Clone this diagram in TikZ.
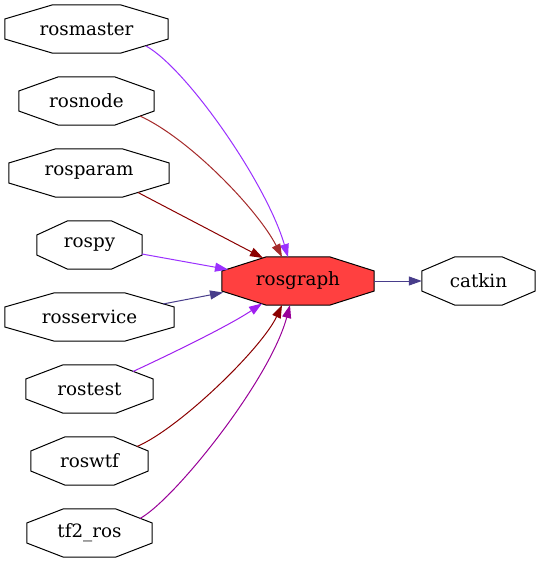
\documentclass[tikz,border=0pt]{standalone}
\usepackage{fontspec}
\setmainfont{DejaVu Serif}
\usetikzlibrary{calc,arrows.meta,backgrounds}
\definecolor{cPurple}{HTML}{9B30FF}
\definecolor{cBrown}{HTML}{A52A2A}
\definecolor{cDarkRed}{HTML}{8B0000}
\definecolor{cSlate}{HTML}{483D8B}
\definecolor{cViolet}{HTML}{A020F0}
\definecolor{cMagenta}{HTML}{990099}
\definecolor{cFill}{HTML}{FF4040}
\newcommand\octpath[1]{($(#1.north west)!0.2929!(#1.north east)$) -- ($(#1.north west)!0.7071!(#1.north east)$) -- ($(#1.north east)!0.2929!(#1.south east)$) -- ($(#1.north east)!0.7071!(#1.south east)$) -- ($(#1.south west)!0.7071!(#1.south east)$) -- ($(#1.south west)!0.2929!(#1.south east)$) -- ($(#1.north west)!0.7071!(#1.south west)$) -- ($(#1.north west)!0.2929!(#1.south west)$) -- cycle}
\tikzset{
  oct/.style={rectangle, draw=none, minimum height=48pt, inner sep=0pt, font=\fontsize{18.3}{22}\selectfont},
  octline/.style={draw=black, line width=1pt},
  conn/.style={line width=1pt, -{Triangle[length=13pt,width=9pt]}}
}
\begin{document}
\begin{tikzpicture}[x=1pt,y=-1pt]
\useasboundingbox (0,0) rectangle (540,563);
\node[oct, minimum width=163pt] (rosmaster) at (86.5,29) {rosmaster};
\node[oct, minimum width=135pt] (rosnode) at (86.5,101) {rosnode};
\node[oct, minimum width=160pt] (rosparam) at (89,173) {rosparam};
\node[oct, minimum width=105pt] (rospy) at (89.5,245) {rospy};
\node[oct, minimum width=169pt] (rosservice) at (89.5,317) {rosservice};
\node[oct, minimum width=127pt] (rostest) at (89.5,389) {rostest};
\node[oct, minimum width=117pt] (roswtf) at (89.5,461) {roswtf};
\node[oct, minimum width=125pt] (tf2ros) at (89.5,533) {tf2\_ros};
\node[oct, minimum width=152pt] (rosgraph) at (298,281) {rosgraph};
\node[oct, minimum width=113pt] (catkin) at (478.5,281) {catkin};
\begin{scope}[on background layer]
\fill[white] (0,0) rectangle (540,563);
\filldraw[octline, fill=cFill] \octpath{rosgraph};
\end{scope}
\foreach \n in {rosmaster,rosnode,rosparam,rospy,rosservice,rostest,roswtf,tf2ros,catkin}
  \draw[octline] \octpath{\n};
% ports
\coordinate (sm) at (146,46);
\coordinate (sn) at (140,116);
\coordinate (sp) at (138,192.5);
\coordinate (sy) at (142,254);
\coordinate (ss) at (163,304);
\coordinate (st) at (133,371.5);
\coordinate (sw) at (137,446.5);
\coordinate (sf) at (140,518.5);
\coordinate (em) at (288,257);
\coordinate (en) at (282,257);
\coordinate (ep) at (263,258);
\coordinate (ey) at (228,269.5);
\coordinate (es) at (223,292.5);
\coordinate (et) at (262,303.5);
\coordinate (ew) at (282,305);
\coordinate (ef) at (290,305);
\draw[conn, cPurple] (sm) .. controls (186,68) and (266,182) .. (em);
\draw[conn, cBrown] (sn) .. controls (190,139) and (258,210) .. (en);
\draw[conn, cDarkRed] (sp) -- (ep);
\draw[conn, cPurple] (sy) -- (ey);
\draw[conn, cSlate] (ss) -- (es);
\draw[conn, cViolet] (st) .. controls (175,352) and (230,325) .. (et);
\draw[conn, cDarkRed] (sw) .. controls (180,428) and (262,348) .. (ew);
\draw[conn, cMagenta] (sf) .. controls (175,499) and (270,380) .. (ef);
\draw[conn, cSlate] (rosgraph.east) -- (catkin.west);
\end{tikzpicture}
\end{document}
